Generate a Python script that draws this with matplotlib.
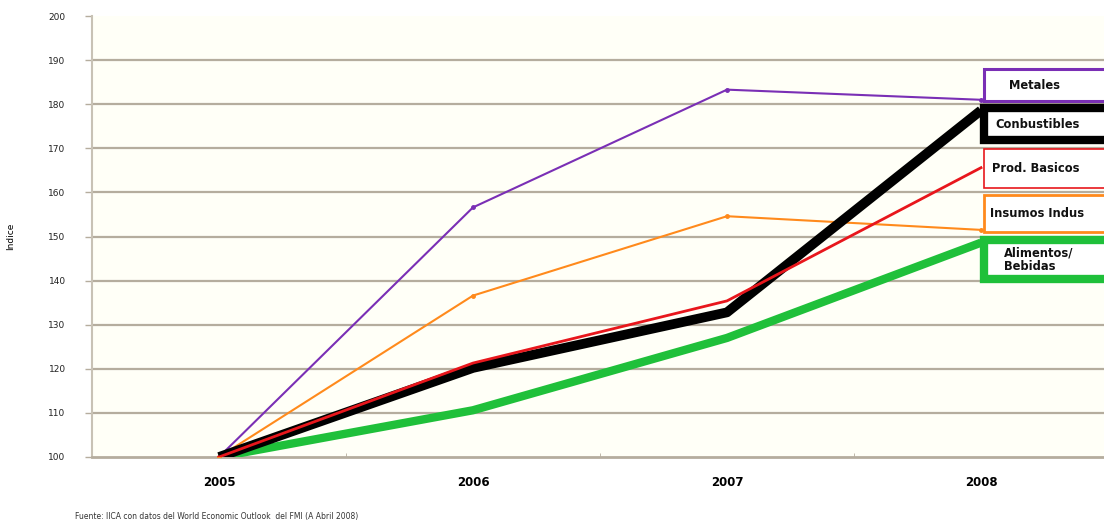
import matplotlib.pyplot as plt
from matplotlib.patches import Rectangle

years = ["2005", "2006", "2007", "2008"]
metales = [100, 156.6, 183.3, 181.0]
insumos = [100, 136.6, 154.6, 151.5]
prod_basicos = [100, 121.3, 135.4, 165.6]
combustibles = [100, 120.2, 132.8, 178.6]
alimentos = [100, 110.6, 127.0, 148.6]

series_names = ["Metales", "Conbustibles", "Prod. Basicos",
                "Insumos Indus", "Alimentos/\nBebidas"]
y_ticks = list(range(100, 201, 10))

fig = plt.figure(figsize=(11.04, 5.27), dpi=100)
fig.patch.set_facecolor("white")
ax = fig.add_axes([92 / 1104, 1 - 457 / 527, (1108 - 92) / 1104, (457 - 16) / 527])
ax.set_facecolor("#fffff7")

x = list(range(len(years)))
ax.set_xlim(-0.5, 3.5)
ax.set_ylim(100, 200)

grid_color = "#b5ad9e"
for v in y_ticks[1:-1]:
    ax.axhline(v, color=grid_color, lw=1.6, zorder=1)

# series, drawn back to front
ax.plot(x, alimentos, color="#1fc03a", lw=6, solid_capstyle="butt", zorder=3)
ax.plot(x, metales, color="#7a2fb5", lw=1.5, marker="o", ms=2.5, zorder=4)
ax.plot(x, insumos, color="#ff8a1c", lw=1.5, marker="o", ms=2.5, zorder=4)
ax.plot(x, combustibles, color="black", lw=7, solid_capstyle="butt", zorder=5)
ax.plot(x, prod_basicos, color="#e8161c", lw=2, zorder=6)

# series label boxes at the right end
boxes = [
    (series_names[0], 180.7, 188.0, "#7a2fb5", 2.2),
    (series_names[1], 171.9, 179.1, "black", 6),
    (series_names[2], 161.0, 169.8, "#e8161c", 1.2),
    (series_names[3], 151.0, 159.4, "#ff8a1c", 2),
    (series_names[4], 140.3, 149.2, "#1fc03a", 6),
]
text_x = [3.11, 3.055, 3.045, 3.035, 3.09]
for (name, y0, y1, col, lw), tx in zip(boxes, text_x):
    r = Rectangle((3.01, y0), 0.8, y1 - y0, facecolor="white", edgecolor=col,
                  lw=lw, zorder=7, clip_on=False)
    ax.add_patch(r)
    ax.text(tx, (y0 + y1) / 2, name, fontsize=8.3, fontweight="bold",
            va="center", ha="left", zorder=8, color="#111111",
            linespacing=1.1, clip_on=False)

ax.set_yticks(y_ticks)
ax.set_yticklabels([str(v) for v in y_ticks], fontsize=6.5, color="#222222")
ax.set_xticks(x)
ax.set_xticklabels(years, fontsize=8.5, fontweight="bold")
ax.set_xticks([0.5, 1.5, 2.5], minor=True)
ax.tick_params(axis="x", which="major", length=0, pad=14)
ax.tick_params(axis="x", which="minor", length=3, color=grid_color, direction="in")
ax.tick_params(axis="y", length=5, color=grid_color, width=1, pad=14)

for s in ["top", "right"]:
    ax.spines[s].set_visible(False)
ax.spines["left"].set_color("#c8c2b5")
ax.spines["left"].set_linewidth(1.5)
ax.spines["bottom"].set_color(grid_color)
ax.spines["bottom"].set_linewidth(2)

ax.set_ylabel("Indice", fontsize=6.5, labelpad=24)

fig.text(75 / 1104, 1 - 517 / 527,
         "Fuente: IICA con datos del World Economic Outlook  del FMI (A Abril 2008)",
         fontsize=5.5, color="#333333", va="center", ha="left")

fig.savefig("out.png", dpi=100)
